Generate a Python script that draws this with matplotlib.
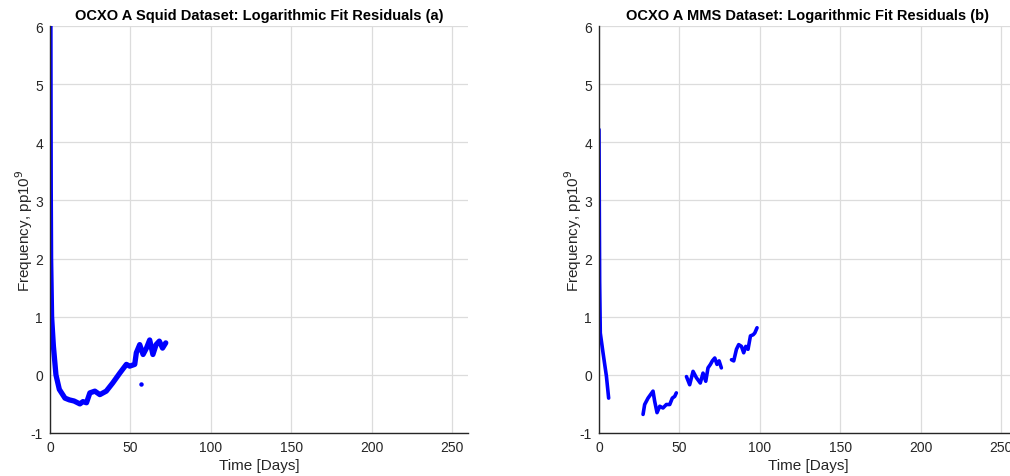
import matplotlib
matplotlib.use("Agg")
import matplotlib.pyplot as plt

plt.rcParams['font.family'] = ['Liberation Sans', 'DejaVu Sans']
plt.rcParams['axes.unicode_minus'] = False

# Panel (a): OCXO A Squid residuals (days, pp10^9)
squid_days = [0.0, 0.05, 0.2, 0.4, 1.0, 2.1, 3.7, 5.8, 9.3, 12.0, 15.0, 18.6, 20.5, 22.7,
              24.8, 27.9, 31.0, 35.0, 39.0, 43.4, 47.5, 49.6, 52.7, 53.7, 55.8, 57.9,
              60.0, 62.0, 64.0, 66.0, 68.0, 70.0, 72.0]
squid_vals = [6.0, 5.3, 3.2, 2.0, 1.0, 0.5, 0.0, -0.25, -0.4, -0.43, -0.45, -0.5, -0.46, -0.48,
              -0.31, -0.28, -0.34, -0.28, -0.14, 0.03, 0.18, 0.15, 0.18, 0.38, 0.52, 0.35,
              0.46, 0.6, 0.35, 0.52, 0.58, 0.46, 0.55]
squid_outlier_day = [56.4]
squid_outlier_val = [-0.15]

# Panel (b): OCXO A MMS residuals, four separate segments
mms_seg1_days = [0.0, 0.2, 0.4, 0.8, 2.5, 4.6, 6.0]
mms_seg1_vals = [4.22, 2.8, 1.6, 0.72, 0.38, -0.02, -0.4]
mms_seg2_days = [27.4, 28.4, 30.5, 33.6, 34.6, 36.1, 37.8, 39.8, 41.9, 44.0, 45.6, 47.1, 48.1]
mms_seg2_vals = [-0.68, -0.51, -0.40, -0.28, -0.45, -0.65, -0.54, -0.57, -0.51, -0.51, -0.40, -0.37, -0.31]
mms_seg3_days = [54.4, 56.4, 58.5, 60.6, 63.0, 64.7, 66.4, 67.8, 69.3, 70.5, 72.0, 73.4, 74.7, 76.1]
mms_seg3_vals = [-0.03, -0.17, 0.06, -0.05, -0.14, 0.03, -0.11, 0.12, 0.18, 0.24, 0.29, 0.18, 0.24, 0.12]
mms_seg4_days = [82.4, 83.8, 85.5, 86.9, 88.6, 90.0, 91.3, 92.7, 94.2, 95.9, 96.9, 98.3]
mms_seg4_vals = [0.26, 0.24, 0.44, 0.52, 0.49, 0.38, 0.49, 0.44, 0.67, 0.69, 0.72, 0.81]

x_ticks = [0, 50, 100, 150, 200, 250]
y_ticks = [-1, 0, 1, 2, 3, 4, 5, 6]

fig = plt.figure(figsize=(10.10, 4.77), dpi=100)
W, H = 1010, 477
ax1 = fig.add_axes([50 / W, 1 - 434 / H, 418 / W, 407 / H])
ax2 = fig.add_axes([599 / W, 1 - 434 / H, 418 / W, 407 / H])

blue = '#0000ff'
ax1.plot(squid_days, squid_vals, color=blue, lw=3.8, solid_capstyle='round', solid_joinstyle='round')
ax1.plot(squid_outlier_day, squid_outlier_val, 'o', color=blue, ms=2.2)

for d, v in [(mms_seg1_days, mms_seg1_vals), (mms_seg2_days, mms_seg2_vals),
             (mms_seg3_days, mms_seg3_vals), (mms_seg4_days, mms_seg4_vals)]:
    ax2.plot(d, v, color=blue, lw=2.6, solid_capstyle='round', solid_joinstyle='round')

titles = ['OCXO A Squid Dataset: Logarithmic Fit Residuals (a)',
          'OCXO A MMS Dataset: Logarithmic Fit Residuals (b)']
for ax, t in zip([ax1, ax2], titles):
    ax.set_xlim(0, 260)
    ax.set_ylim(-1, 6)
    ax.set_xticks(x_ticks)
    ax.set_yticks(y_ticks)
    ax.grid(True, color='#dcdcdc', lw=0.9)
    ax.set_axisbelow(True)
    for s in ['top', 'right']:
        ax.spines[s].set_visible(False)
    for s in ['left', 'bottom']:
        ax.spines[s].set_color('#262626')
        ax.spines[s].set_linewidth(1.0)
    ax.tick_params(length=0, labelsize=10, colors='#262626', pad=5)
    ax.set_xlabel('Time [Days]', fontsize=11, color='#262626', labelpad=3)
    ax.set_ylabel('Frequency, pp10$^{9}$', fontsize=11, color='#262626')
    ax.yaxis.set_label_coords(-0.036, 0.5)
    ax.set_title(t, fontsize=10.5, fontweight='bold', pad=5)

fig.savefig('out.png', dpi=100)
